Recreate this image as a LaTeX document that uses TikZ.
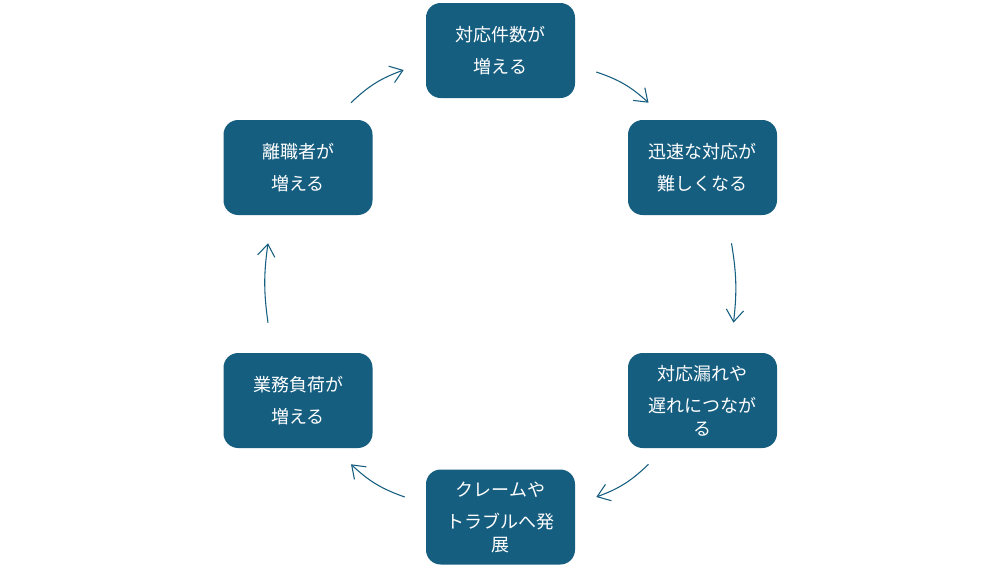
\documentclass[tikz,border=0pt]{standalone}
\usepackage{fontspec}
\usepackage{tikz}
\usetikzlibrary{positioning, arrows.meta}
\newfontfamily\jpfont{Noto Sans CJK JP}
\definecolor{boxblue}{RGB}{22,94,128}
\tikzset{
    box/.style={rectangle, fill=boxblue, text=white, rounded corners=11pt, minimum width=111.75pt, minimum height=71.25pt, align=center, inner sep=2pt, font=\jpfont\fontsize{13.5}{17.25}\selectfont},
    arrow/.style={-{Straight Barb[length=9pt, width=13pt]}, line width=0.8pt, draw=boxblue}
}
\begin{document}
\begin{tikzpicture}[x=0.75pt, y=-0.75pt]
    \fill[white] (0,0) rectangle (1000,568);
    \useasboundingbox (0,0) rectangle (1000,568);

    % Boxes
    \node[box] (incr) at (500.5, 50.5) {対応件数が\\[6.75pt]増える};
    \node[box] (hard) at (702.5, 167.5) {迅速な対応が\\[6.75pt]難しくなる};
    \node[box] (miss) at (702.5, 400.5) {対応漏れや\\[6.75pt]遅れにつなが\\る};
    \node[box] (claim) at (500.5, 517) {クレームや\\[6.75pt]トラブルへ発\\展};
    \node[box] (load) at (298, 400.5) {業務負荷が\\[6.75pt]増える};
    \node[box] (quit) at (298, 167.5) {離職者が\\[6.75pt]増える};

    % Cycle arrows
    \draw[arrow] ([shift={(21,21.5)}]incr.east) to[bend left=12] ([shift={(-54,-17)}]hard.north);
    \draw[arrow] ([shift={(29,28)}]hard.south) to[bend left=8] ([shift={(31,-30)}]miss.north);
    \draw[arrow] ([shift={(-54,16)}]miss.south) to[bend left=12] ([shift={(21,-20)}]claim.east);
    \draw[arrow] ([shift={(-21,-20)}]claim.west) to[bend left=12] ([shift={(53,16)}]load.south);
    \draw[arrow] ([shift={(-30,-30)}]load.north) to[bend left=8] ([shift={(-30,28)}]quit.south);
    \draw[arrow] ([shift={(53,-17)}]quit.north) to[bend left=12] ([shift={(-22,19.5)}]incr.west);
\end{tikzpicture}
\end{document}
